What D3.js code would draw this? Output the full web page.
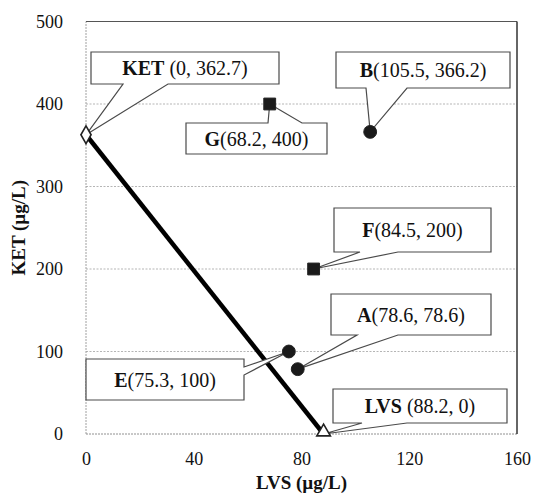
<!DOCTYPE html>
<html>
<meta charset="utf-8">
<script src="https://d3js.org/d3.v7.min.js"></script>
<body style="margin:0; background:#fff">
<div id="chart"></div>
<script>
// point names and their coordinates (LVS on x, KET on y, both ug/L)
var names = ["KET", "LVS", "A", "B", "E", "F", "G"];
var lvsVals = [0, 88.2, 78.6, 105.5, 75.3, 84.5, 68.2];
var ketVals = [362.7, 0, 78.6, 366.2, 100, 200, 400];
var shapes = ["diamond", "triangle", "circle", "circle", "circle", "square", "square"];

var xTicks = [0, 40, 80, 120, 160];
var yTicks = [0, 100, 200, 300, 400, 500];

// callout boxes (pixel layout), wedge side and its base on that side
var boxes = {
  KET: {x: 91, y: 52, w: 188, h: 32, side: "bottom", a: 123, b: 168},
  G:   {x: 186, y: 123, w: 141, h: 31, side: "top", a: 268, b: 302},
  B:   {x: 336, y: 52, w: 174, h: 36, side: "bottom", a: 366, b: 407},
  F:   {x: 334, y: 208, w: 157, h: 44, side: "bottom", a: 360, b: 398},
  A:   {x: 331, y: 294, w: 160, h: 41, side: "bottom", a: 357, b: 398},
  E:   {x: 86, y: 359, w: 158, h: 41, side: "right", a: 367, b: 375},
  LVS: {x: 333, y: 389, w: 174, h: 34, side: "bottom", a: 362, b: 407}
};

var FONT = "Liberation Serif";
var width = 533, height = 495;
var x = d3.scaleLinear().domain([0, 160]).range([86, 517]);
var y = d3.scaleLinear().domain([0, 500]).range([434, 21.5]);

var svg = d3.select("#chart").append("svg")
    .attr("width", width)
    .attr("height", height)
    .style("font-family", FONT);

// grid lines
svg.append("g").selectAll("line")
    .data(yTicks.filter(function(d) { return d > 0 && d < 500; }))
    .enter().append("line")
    .attr("x1", x(0)).attr("x2", x(160))
    .attr("y1", function(d) { return y(d); })
    .attr("y2", function(d) { return y(d); })
    .attr("stroke", "#b5b5b5")
    .attr("stroke-dasharray", "2,1.5");

// frame: left/bottom light, top/right dark
svg.append("line").attr("x1", x(0)).attr("x2", x(0)).attr("y1", y(0)).attr("y2", y(500))
    .attr("stroke", "#a0a0a0").attr("stroke-dasharray", "2,1");
svg.append("line").attr("x1", x(0)).attr("x2", x(160)).attr("y1", y(0)).attr("y2", y(0))
    .attr("stroke", "#909090").attr("stroke-dasharray", "2,1");
svg.append("line").attr("x1", x(0)).attr("x2", x(160)).attr("y1", y(500)).attr("y2", y(500))
    .attr("stroke", "#555").attr("stroke-width", 1.2);
svg.append("line").attr("x1", x(160)).attr("x2", x(160)).attr("y1", y(0)).attr("y2", y(500))
    .attr("stroke", "#333").attr("stroke-width", 1.5);

// axes
var xAxis = svg.append("g")
    .attr("transform", "translate(0," + y(0) + ")")
    .call(d3.axisBottom(x).tickValues(xTicks).tickSize(0).tickPadding(18));
var yAxis = svg.append("g")
    .attr("transform", "translate(" + x(0) + ",0)")
    .call(d3.axisLeft(y).tickValues(yTicks).tickSize(0).tickPadding(23));
[xAxis, yAxis].forEach(function(g) {
  g.attr("font-family", FONT).attr("font-size", 18);
  g.select(".domain").remove();
  g.selectAll("text").style("font-family", FONT).style("font-size", "18px").attr("fill", "#111");
});

svg.append("text")
    .attr("x", (x(0) + x(160)) / 2).attr("y", 489)
    .attr("text-anchor", "middle")
    .style("font-family", FONT)
    .style("font-size", "19px").style("font-weight", "bold")
    .attr("fill", "#111")
    .text("LVS (\u00b5g/L)");
svg.append("text")
    .attr("transform", "translate(25," + (y(0) + y(500)) / 2 + ") rotate(-90)")
    .attr("text-anchor", "middle")
    .style("font-family", FONT)
    .style("font-size", "19px").style("font-weight", "bold")
    .attr("fill", "#111")
    .text("KET (\u00b5g/L)");

// KET - LVS line
var pts = names.map(function(n, i) { return {name: n, lvs: lvsVals[i], ket: ketVals[i], shape: shapes[i]}; });
var ends = pts.filter(function(d) { return d.name == "KET" || d.name == "LVS"; });
svg.append("path")
    .datum(ends)
    .attr("d", d3.line().x(function(d) { return x(d.lvs); }).y(function(d) { return y(d.ket); }))
    .attr("stroke", "#000")
    .attr("stroke-width", 4.5)
    .attr("fill", "none");

// callouts
function calloutPath(b, px, py) {
  var l = b.x, t = b.y, r = b.x + b.w, bt = b.y + b.h;
  if (b.side == "bottom")
    return "M" + l + "," + t + "H" + r + "V" + bt + "H" + b.b + "L" + px + "," + py + "L" + b.a + "," + bt + "H" + l + "Z";
  if (b.side == "top")
    return "M" + l + "," + t + "H" + b.a + "L" + px + "," + py + "L" + b.b + "," + t + "H" + r + "V" + bt + "H" + l + "Z";
  return "M" + l + "," + t + "H" + r + "V" + b.a + "L" + px + "," + py + "L" + r + "," + b.b + "V" + bt + "H" + l + "Z";
}

var callouts = svg.append("g").selectAll("g")
    .data(pts)
    .enter().append("g");

callouts.append("path")
    .attr("d", function(d) { return calloutPath(boxes[d.name], x(d.lvs), y(d.ket)); })
    .attr("fill", "#fff")
    .attr("stroke", "#4a4a4a")
    .attr("stroke-width", 1.2)
    .attr("stroke-linejoin", "miter");

var labels = callouts.append("text")
    .attr("x", function(d) { var b = boxes[d.name]; return b.x + b.w / 2; })
    .attr("y", function(d) { var b = boxes[d.name]; return b.y + b.h / 2; })
    .attr("dy", "0.35em")
    .attr("text-anchor", "middle")
    .attr("fill", "#111")
    .style("font-family", FONT)
    .style("font-size", "20px");
labels.append("tspan")
    .style("font-weight", "bold")
    .text(function(d) { return d.name; });
labels.append("tspan")
    .text(function(d) { return (d.name.length > 1 ? " " : "") + "(" + d.lvs + ", " + d.ket + ")"; });

// markers
var sym = {
  diamond: d3.symbolDiamond, triangle: d3.symbolTriangle,
  circle: d3.symbolCircle, square: d3.symbolSquare
};
var sizes = {diamond: 90, triangle: 80, circle: 130, square: 140};
svg.append("g").selectAll("path")
    .data(pts)
    .enter().append("path")
    .attr("transform", function(d) {
      var dy = d.shape == "triangle" ? -2 : 0;
      return "translate(" + x(d.lvs) + "," + (y(d.ket) + dy) + ")";
    })
    .attr("d", function(d) { return d3.symbol().type(sym[d.shape]).size(sizes[d.shape])(); })
    .attr("fill", function(d) { return (d.shape == "diamond" || d.shape == "triangle") ? "#fff" : "#1a1a1a"; })
    .attr("stroke", "#222")
    .attr("stroke-width", function(d) { return (d.shape == "diamond" || d.shape == "triangle") ? 1.6 : 1; });
</script>
</body>
</html>
